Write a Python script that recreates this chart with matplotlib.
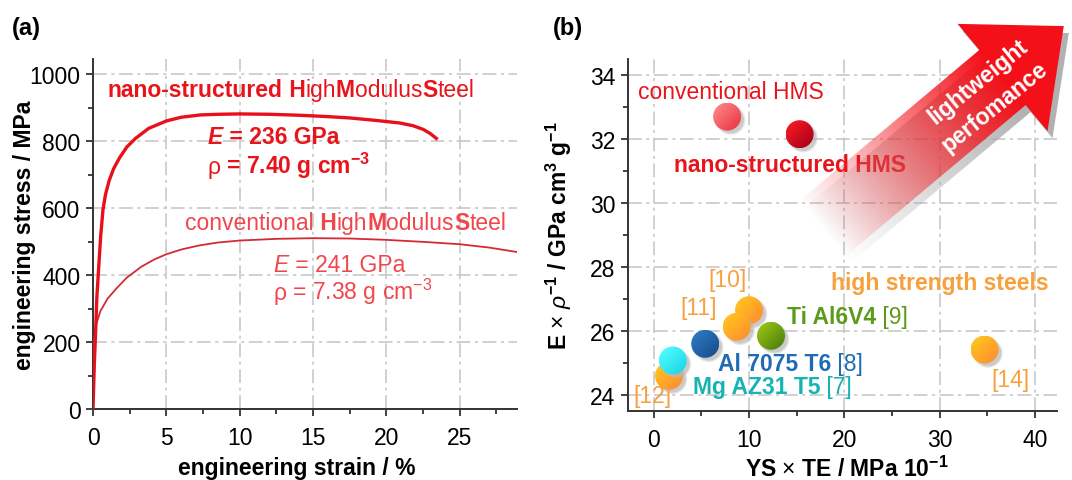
import numpy as np
import matplotlib
matplotlib.use("Agg")
import matplotlib.pyplot as plt
import matplotlib.transforms as mtransforms
from matplotlib.patches import Ellipse, Polygon
from matplotlib.colors import to_rgb
from matplotlib.ticker import MultipleLocator

plt.rcParams['font.family'] = ['Liberation Sans', 'DejaVu Sans']
plt.rcParams['mathtext.fontset'] = 'custom'
plt.rcParams['mathtext.rm'] = 'Liberation Sans'
plt.rcParams['mathtext.it'] = 'Liberation Sans:italic'
plt.rcParams['mathtext.bf'] = 'Liberation Sans:bold'

# ---------------- data (a) ----------------
nano_strain = [0, 0.09, 0.18, 0.26, 0.40, 0.53, 0.68, 0.85, 1.1, 1.4, 1.81, 2.3, 2.9, 3.8, 5.0,
               6.0, 7.3, 8.6, 10.0, 12.0, 14.1, 16.0, 17.5, 19.2, 20.9, 21.8, 22.5, 23.0, 23.4]
nano_stress = [0, 133, 233, 332, 431, 520, 595, 640, 682, 717, 750, 782, 808, 838, 860,
               871, 878, 880, 881, 880, 877, 873, 869, 862, 854, 846, 835, 822, 808]
conv_strain = [0, 0.03, 0.06, 0.2, 0.5, 1.0, 1.6, 2.3, 3.3, 4.2, 5.0, 6.0, 7.2, 8.5, 10.0, 12.5,
               15.0, 17.5, 20.0, 22.5, 25.0, 27.0, 29.0, 30.0]
conv_stress = [0, 150, 200, 250, 292, 330, 360, 392, 425, 447, 462, 476, 488, 497, 503, 508,
               510, 509, 505, 499, 492, 482, 468, 460]

# ---------------- data (b) ----------------
materials = ['conventional HMS', 'nano-structured HMS', '[12]', 'Mg AZ31 T5',
             'Al 7075 T6', '[10]', '[11]', 'Ti Al6V4', '[14]']
ys_te = [7.7, 15.3, 1.6, 2.0, 5.4, 10.0, 8.7, 12.3, 34.7]
spec_modulus = [32.70, 32.15, 24.60, 25.08, 25.60, 26.65, 26.13, 25.85, 25.42]
light_cols = ['#ff8a8a', '#ff1a24', '#ffc81e', '#55ffff', '#2e7cc4', '#ffc81e', '#ffc81e', '#9cc814', '#ffc81e']
dark_cols = ['#e83440', '#a00018', '#ff8a30', '#18d4e4', '#164c8c', '#ff8a30', '#ff8a30', '#4a7c10', '#ff8a30']

RED = '#e8141c'
LRED = '#f0474d'
ORANGE = '#f7a03c'
GREEN = '#5b9a1b'
BLUE = '#1f6bb5'
TEAL = '#17b3b3'

W, H = 1072, 481
fig = plt.figure(figsize=(W / 100, H / 100), dpi=100)
renderer = fig.canvas.get_renderer()

ax1 = fig.add_axes([93 / W, 1 - 410 / H, (517 - 93) / W, (410 - 60) / H])
ax2 = fig.add_axes([628 / W, 1 - 412 / H, (1057 - 628) / W, (412 - 60) / H])

GRID = dict(color='#c4c4c4', linestyle=(0, (9, 3, 2, 3)), linewidth=1.1)
TICKFS = 16.5
LABFS = 16.5

for ax in (ax1, ax2):
    for s in ('top', 'right'):
        ax.spines[s].set_visible(False)
    for s in ('left', 'bottom'):
        ax.spines[s].set_color('#333333')
        ax.spines[s].set_linewidth(1.4)
    ax.tick_params(which='major', direction='out', length=5, width=1.3, color='#333333',
                   labelsize=TICKFS)
    ax.tick_params(which='minor', direction='out', length=3.5, width=1.3, color='#333333')
    ax.tick_params(axis='x', which='major', pad=7)
    ax.tick_params(axis='y', which='major', pad=4)
    ax.grid(True, which='major', **GRID)
    ax.set_axisbelow(True)


def rich_text(ax, x, y, parts, transform=None, **common):
    base = transform if transform is not None else ax.transData
    off = 0.0
    for s, kw in parts:
        tr = mtransforms.offset_copy(base, x=off, y=0, units='dots')
        t = ax.text(x, y, s, transform=tr, ha='left', va='baseline', **common, **kw)
        off += t.get_window_extent(renderer).width


# ---------------- panel (a) ----------------
ax1.set_xlim(0, 28.9)
ax1.set_ylim(0, 1045)
ax1.xaxis.set_major_locator(MultipleLocator(5))
ax1.xaxis.set_minor_locator(MultipleLocator(2.5))
ax1.yaxis.set_major_locator(MultipleLocator(200))
ax1.yaxis.set_minor_locator(MultipleLocator(100))

ax1.plot(conv_strain, conv_stress, color='#d42a35', lw=1.3, zorder=3)
ax1.plot(nano_strain, nano_stress, color='#e8101a', lw=2.4, zorder=4)

ax1.set_xlabel('engineering strain / %', fontsize=LABFS, fontweight='bold')
ax1.xaxis.set_label_coords(0.48, -0.133)
ax1.set_ylabel('engineering stress / MPa', fontsize=LABFS, fontweight='bold')
ax1.yaxis.set_label_coords(-0.135, 0.5)

FS = 16.5
B = dict(fontweight='bold')
N = dict(fontweight='normal')
rich_text(ax1, 1.0, 936, [('nano-structured', B), (' H', B), ('igh', N), ('M', B),
                          ('odulus', N), ('S', B), ('teel', N)], color=RED, fontsize=FS)
rich_text(ax1, 7.8, 795, [('E', dict(fontweight='bold', fontstyle='italic')),
                          (' = 236 GPa', B)], color=RED, fontsize=FS)
rich_text(ax1, 7.8, 705, [('ρ', N), (r' = 7.40 g cm$^{\mathbf{-3}}$', B)], color=RED, fontsize=FS)
rich_text(ax1, 6.3, 537, [('conventional', N), (' H', B), ('igh', N), ('M', B),
                          ('odulus', N), ('S', B), ('teel', N)], color=LRED, fontsize=FS)
rich_text(ax1, 12.3, 413, [('E', dict(fontstyle='italic')), (' = 241 GPa', N)],
          color=LRED, fontsize=FS)
rich_text(ax1, 12.3, 329, [('ρ', N), (r' = 7.38 g cm$^{-3}$', N)], color=LRED, fontsize=FS)

# ---------------- panel (b) ----------------
ax2.set_xlim(-2.7, 42.3)
ax2.set_ylim(23.5, 34.5)
ax2.xaxis.set_major_locator(MultipleLocator(10))
ax2.xaxis.set_minor_locator(MultipleLocator(5))
ax2.yaxis.set_major_locator(MultipleLocator(2))
ax2.yaxis.set_minor_locator(MultipleLocator(1))

ax2.set_xlabel(r'YS $\times$ TE / MPa 10$^{\mathbf{-1}}$', fontsize=LABFS, fontweight='bold')
ax2.xaxis.set_label_coords(0.51, -0.127)
ax2.set_ylabel(r'E $\times$ $\rho^{\mathbf{-1}}$ / GPa cm$^{\mathbf{3}}$ g$^{\mathbf{-1}}$',
               fontsize=LABFS, fontweight='bold')
ax2.yaxis.set_label_coords(-0.125, 0.5)


def grad_circle(ax, x, y, c_light, c_dark, r_px, z):
    p0 = ax.transData.transform((x, y))
    sx = ax.transData.transform((x + 1, y))[0] - p0[0]
    sy = ax.transData.transform((x, y + 1))[1] - p0[1]
    rx, ry = r_px / sx, r_px / sy
    for k, a in ((1.0, 0.35), (0.9, 0.6)):
        sh = Ellipse((x + 3.5 / sx, y - 3.5 / sy), 2 * rx * (k + 0.05), 2 * ry * (k + 0.05),
                     fc='#b8b8b8', ec='none', alpha=a, zorder=z)
        ax.add_patch(sh)
    n = 64
    u = np.linspace(0, 1, n)
    U, V = np.meshgrid(u, u)
    t = np.clip((U + V) / 2 * 1.1 - 0.05, 0, 1)[..., None]
    img = np.array(to_rgb(c_light)) * (1 - t) + np.array(to_rgb(c_dark)) * t
    im = ax.imshow(img, extent=(x - rx, x + rx, y - ry, y + ry), origin='upper',
                   aspect='auto', zorder=z + 0.1, interpolation='bilinear')
    clip = Ellipse((x, y), 2 * rx, 2 * ry, fc='none', ec='none', transform=ax.transData)
    ax.add_patch(clip)
    im.set_clip_path(clip)


for i, (xv, yv) in enumerate(zip(ys_te, spec_modulus)):
    grad_circle(ax2, xv, yv, light_cols[i], dark_cols[i], 14, 3 + i * 0.2)

ax2.set_xlim(-2.7, 42.3)
ax2.set_ylim(23.5, 34.5)

FS2 = 16.5
ax2.text(-1.7, 33.28, 'conventional HMS', color=RED, fontsize=FS2, va='baseline', zorder=6)
ax2.text(2.1, 31.0, 'nano-structured HMS', color=RED, fontsize=FS2, fontweight='bold',
         va='baseline', zorder=6)
ax2.text(18.6, 27.31, 'high strength steels', color=ORANGE, fontsize=FS2, fontweight='bold',
         va='baseline', zorder=6)
ax2.text(5.7, 27.4, '[10]', color=ORANGE, fontsize=FS2, va='baseline', zorder=6)
ax2.text(2.75, 26.53, '[11]', color=ORANGE, fontsize=FS2, va='baseline', zorder=6)
ax2.text(-2.1, 23.78, '[12]', color=ORANGE, fontsize=FS2, va='baseline', zorder=6)
ax2.text(35.4, 24.29, '[14]', color=ORANGE, fontsize=FS2, va='baseline', zorder=6)
rich_text(ax2, 13.95, 26.25, [('Ti Al6V4', B), (' [9]', N)], color=GREEN, fontsize=FS2, zorder=6)
rich_text(ax2, 6.7, 24.78, [('Al 7075 T6', B), (' [8]', N)], color=BLUE, fontsize=FS2, zorder=6)
rich_text(ax2, 4.1, 24.06, [('Mg AZ31 T5', B), (' [7]', N)], color=TEAL, fontsize=FS2, zorder=6)

# panel labels
fig.text(12 / W, 1 - 35 / H, '(a)', fontsize=17, fontweight='bold')
fig.text(553 / W, 1 - 35 / H, '(b)', fontsize=17, fontweight='bold')

# ---------------- lightweight performance arrow (pixel overlay) ----------------
ov = fig.add_axes([0, 0, 1, 1], zorder=5)
ov.set_xlim(0, W)
ov.set_ylim(H, 0)
ov.axis('off')

theta = np.deg2rad(40)
u = np.array([np.cos(theta), -np.sin(theta)])
nrm = np.array([np.sin(theta), np.cos(theta)])
Bm = np.array([1002.5, 78.5])
Ls, hw, HW, HL = 235, 36, 70, 80
T = Bm - Ls * u
tip = Bm + HL * u
pts = np.array([T - hw * nrm, Bm - hw * nrm, Bm - HW * nrm, tip, Bm + HW * nrm,
                Bm + hw * nrm, T + hw * nrm])


def grad_arrow(offset, color, amax, z):
    p = pts + np.array(offset)
    x0, y0 = p.min(axis=0) - 2
    x1, y1 = p.max(axis=0) + 2
    nx, ny = int(x1 - x0), int(y1 - y0)
    X, Y = np.meshgrid(np.linspace(x0, x1, nx), np.linspace(y0, y1, ny))
    s = ((X - T[0] - offset[0]) * u[0] + (Y - T[1] - offset[1]) * u[1]) / Ls
    a = np.clip(s, 0, 1) ** 1.0 * amax
    rgba = np.zeros((ny, nx, 4))
    rgba[..., :3] = to_rgb(color)
    rgba[..., 3] = a
    im = ov.imshow(rgba, extent=(x0, x1, y1, y0), origin='upper', aspect='auto',
                   zorder=z, interpolation='bilinear')
    poly = Polygon(p, closed=True, fc='none', ec='none', transform=ov.transData)
    ov.add_patch(poly)
    im.set_clip_path(poly)


grad_arrow((5, 7), '#a8a8a8', 0.9, 1)
grad_arrow((0, 0), '#f41018', 1.0, 2)
ov.set_xlim(0, W)
ov.set_ylim(H, 0)

for (du, dn), s in (((-21, -13), 'lightweight'), ((-25, 17), 'perfomance')):
    c = Bm + du * u + dn * nrm
    ov.text(c[0], c[1], s, color='white', fontsize=16.5, fontweight='bold', rotation=39,
            rotation_mode='anchor', ha='center', va='center', zorder=3)

fig.savefig('out.png', dpi=100)
